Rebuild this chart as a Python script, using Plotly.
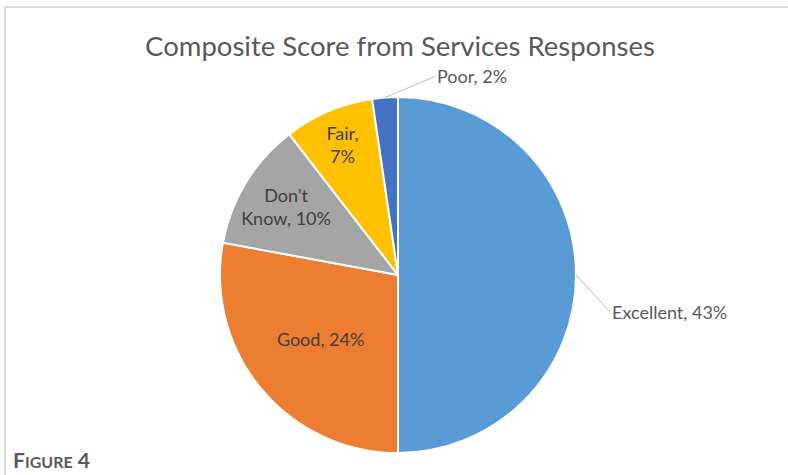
import math
import plotly.graph_objects as go

categories = ["Excellent", "Good", "Don’t Know", "Fair", "Poor"]
values = [43, 24, 10, 7, 2]
label_text = ["Excellent, 43%", "Good, 24%", "Don’t<br>Know, 10%", "Fair,<br>7%", "Poor, 2%"]
colors = ["#5B9BD5", "#ED7D31", "#A5A5A5", "#FFC000", "#4472C4"]
outside = [True, False, False, False, True]
# text offsets (px) for outside labels relative to the slice edge
label_offsets = {"Excellent": (34, 37), "Poor": (50, -21)}

W, H = 788, 475
cx, cy, r = 398, 275, 178

fig = go.Figure(go.Pie(
    labels=categories,
    values=values,
    text=[("" if o else t) for t, o in zip(label_text, outside)],
    textinfo="text",
    textposition=[("none" if o else "inside") for o in outside],
    insidetextorientation="horizontal",
    sort=False,
    direction="clockwise",
    rotation=0,
    marker=dict(colors=colors, line=dict(color="white", width=2)),
    textfont=dict(family="Lato", size=18, color="#404040"),
    domain=dict(x=[(cx - r) / W, (cx + r) / W], y=[(H - cy - r) / H, (H - cy + r) / H]),
    showlegend=False,
    hoverinfo="label+percent",
))

annotations = []
total = sum(values)
cum = 0
for cat, v, t, o in zip(categories, values, label_text, outside):
    mid = (cum + v / 2) / total * 2 * math.pi
    cum += v
    if not o:
        continue
    px = cx + r * math.sin(mid)
    py = cy - r * math.cos(mid)
    ax, ay = label_offsets[cat]
    annotations.append(dict(
        text=t, xref="paper", yref="paper", x=px / W, y=1 - py / H,
        ax=ax, ay=ay, xanchor="left", yanchor="middle",
        showarrow=True, arrowhead=0, arrowwidth=0.8, arrowcolor="#A6A6A6", standoff=0,
        font=dict(family="Lato", size=18, color="#595959"),
    ))

annotations.append(dict(
    text="<b>F<span style='font-size:16px'>IGURE</span> 4</b>", xref="paper", yref="paper",
    x=11 / W, y=1 - 459 / H, xanchor="left", yanchor="middle", showarrow=False,
    font=dict(family="Lato", size=21, color="#595959"),
))

fig.update_layout(
    width=W, height=H,
    margin=dict(l=0, r=0, t=0, b=0),
    paper_bgcolor="white",
    title=dict(text="Composite Score from Services Responses", x=(143 + 657) / 2 / W, xanchor="center",
               y=1 - 46 / H, yanchor="middle",
               font=dict(family="Lato", size=27.5, color="#595959")),
    uniformtext=dict(minsize=18, mode="show"),
    shapes=[
        dict(type="line", xref="paper", yref="paper", x0=5 / W, x1=1, y0=1 - 7 / H, y1=1 - 7 / H,
             line=dict(color="#D9D9D9", width=2)),
        dict(type="line", xref="paper", yref="paper", x0=5 / W, x1=5 / W, y0=0, y1=1 - 7 / H,
             line=dict(color="#D9D9D9", width=2)),
    ],
    annotations=annotations,
)

fig.write_html("out.html", config={"displayModeBar": False},
               post_script="document.body.style.margin='0';document.body.style.overflow='hidden';")
